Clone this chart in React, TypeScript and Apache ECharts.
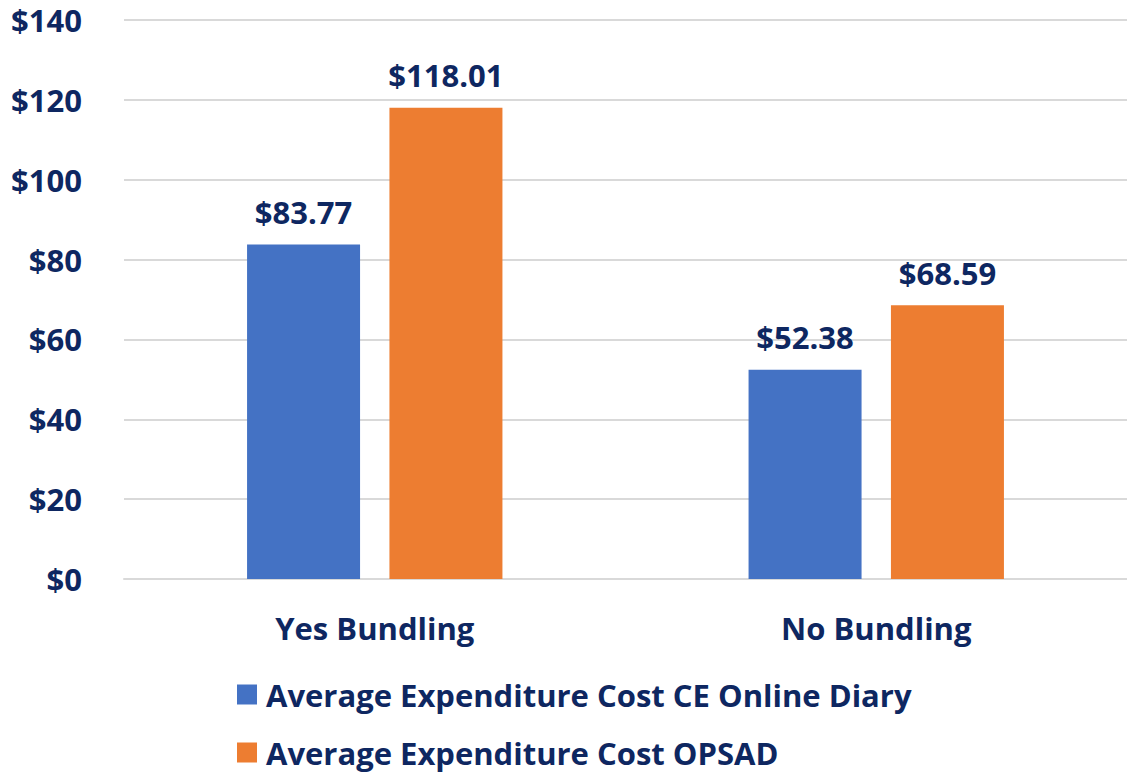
import React, { useEffect, useRef } from "react";
import * as echarts from "echarts";

const categories = ["Yes Bundling", "No Bundling"];
const seriesNames = ["Average Expenditure Cost CE Online Diary", "Average Expenditure Cost OPSAD"];
const onlineDiary = [83.77, 52.38];
const opsad = [118.01, 68.59];
const yTicks = [0, 20, 40, 60, 80, 100, 120, 140];

const TEXT = "#0E2761";
const FONT = "Open Sans";
const FS = 31;

export default function App() {
  const ref = useRef<HTMLDivElement>(null);
  useEffect(() => {
    const chart = echarts.init(ref.current!, null, { renderer: "svg" });
    const label = {
      show: true,
      position: "top",
      distance: 17,
      color: TEXT,
      fontFamily: FONT,
      fontWeight: "bold",
      fontSize: FS,
      formatter: (p: any) => "$" + p.value.toFixed(2),
    };
    const legendBase = {
      orient: "vertical",
      left: 237,
      padding: 0,
      itemWidth: 20,
      itemHeight: 20,
      icon: "rect",
      textStyle: {
        color: TEXT,
        fontFamily: FONT,
        fontWeight: "bold",
        fontSize: FS,
        padding: [0, 0, 0, 4],
      },
    };
    chart.setOption({
      animation: false,
      textStyle: { fontFamily: FONT },
      grid: { left: 124, right: 0, top: 20, bottom: 195, containLabel: false },
      legend: [
        { ...legendBase, top: 679, data: [seriesNames[0]] },
        { ...legendBase, top: 737, data: [seriesNames[1]] },
      ],
      xAxis: {
        type: "category",
        data: categories,
        axisLine: { show: true, lineStyle: { color: "#D9D9D9", width: 2 } },
        axisTick: { show: false },
        axisLabel: { color: TEXT, fontFamily: FONT, fontWeight: "bold", fontSize: FS, margin: 33 },
      },
      yAxis: {
        type: "value",
        min: yTicks[0],
        max: yTicks[yTicks.length - 1],
        interval: 20,
        axisLine: { show: false },
        axisTick: { show: false },
        splitLine: { lineStyle: { color: "#D9D9D9", width: 2 } },
        axisLabel: {
          color: TEXT,
          fontFamily: FONT,
          fontWeight: "bold",
          fontSize: FS,
          margin: 42,
          formatter: (v: number) => "$" + v,
        },
      },
      series: [
        {
          name: seriesNames[0],
          type: "bar",
          data: onlineDiary,
          barWidth: 113,
          barGap: "26%",
          itemStyle: { color: "#4472C4" },
          label,
        },
        {
          name: seriesNames[1],
          type: "bar",
          data: opsad,
          barWidth: 113,
          barGap: "26%",
          itemStyle: { color: "#ED7D31" },
          label,
        },
      ],
    });
    return () => chart.dispose();
  }, []);
  return (
    <div
      ref={ref}
      style={{ position: "fixed", left: 0, top: 0, width: 1127, height: 774, background: "#fff" }}
    />
  );
}
